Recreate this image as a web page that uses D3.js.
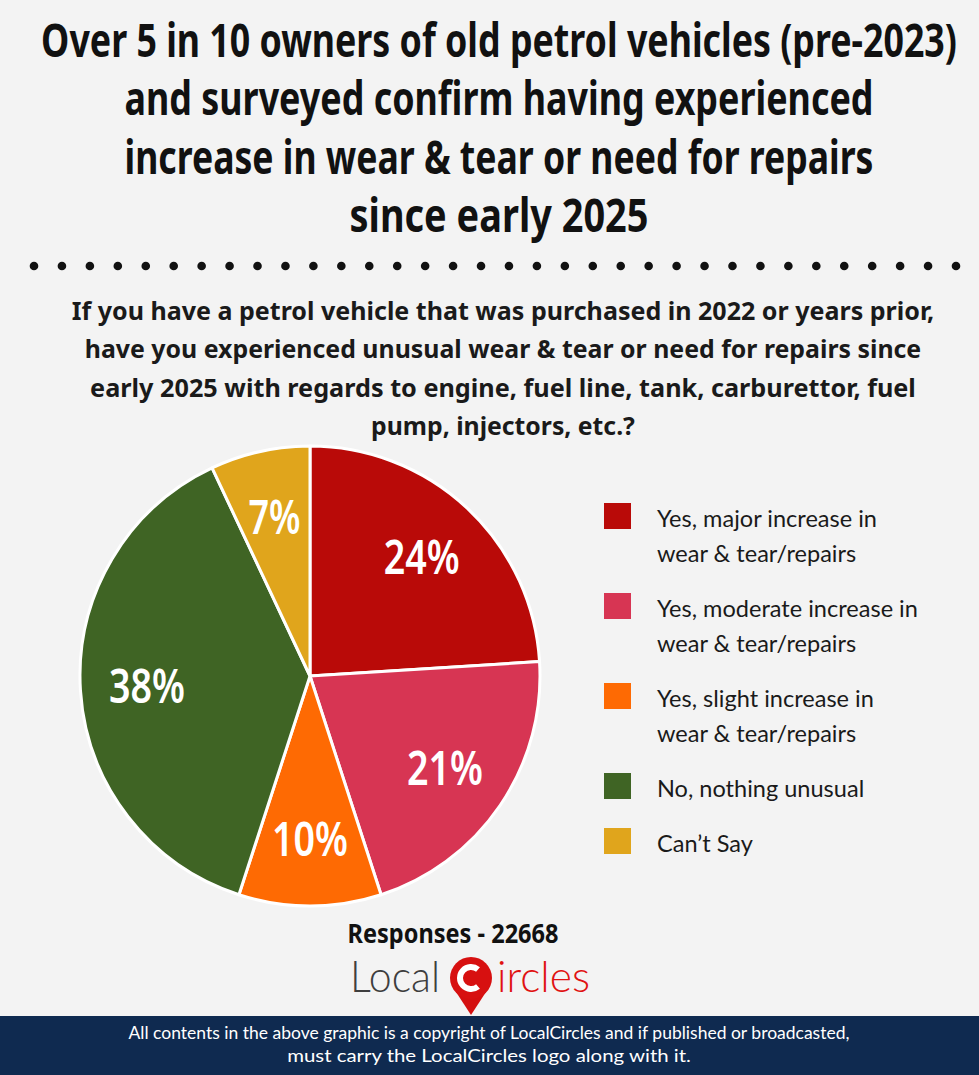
<!DOCTYPE html>
<html>
<head>
<meta charset="utf-8">
<script src="https://cdn.jsdelivr.net/npm/d3@7/dist/d3.min.js"></script>
<style>
  html, body { margin: 0; padding: 0; background: #f3f3f3; }
  svg { display: block; }
</style>
</head>
<body>
<svg id="chart" width="979" height="1075"></svg>
<script>
// ---------------- DATA ----------------
const titleLines = [
  "Over 5 in 10 owners of old petrol vehicles (pre-2023)",
  "and surveyed confirm having experienced",
  "increase in wear & tear or need for repairs",
  "since early 2025"
];
const questionLines = [
  "If you have a petrol vehicle that was purchased in 2022 or years prior,",
  "have you experienced unusual wear & tear or need for repairs since",
  "early 2025 with regards to engine, fuel line, tank, carburettor, fuel",
  "pump, injectors, etc.?"
];
const categories = [
  ["Yes, major increase in", "wear & tear/repairs"],
  ["Yes, moderate increase in", "wear & tear/repairs"],
  ["Yes, slight increase in", "wear & tear/repairs"],
  ["No, nothing unusual"],
  ["Can\u2019t Say"]
];
const values = [24, 21, 10, 38, 7];
const responsesText = "Responses - 22668";
const footerLines = [
  "All contents in the above graphic is a copyright of LocalCircles and if published or broadcasted,",
  "must carry the LocalCircles logo along with it."
];

// ---------------- STYLE / LAYOUT ----------------
const palette = ["#b90a08", "#d73553", "#fe6a03", "#3f6424", "#e0a51c"];
const W = 979, H = 1075;
const svg = d3.select("#chart");
const noto = "'Noto Sans', 'Open Sans', sans-serif";

svg.append("rect").attr("width", W).attr("height", H).attr("fill", "#f3f3f3");

// place a text at (x,y) and squeeze horizontally to a target width
function squeeze(node, x, y, width, anchor) {
  const w = node.getComputedTextLength();
  const k = width / w;
  node.setAttribute("x", 0);
  node.setAttribute("y", 0);
  node.setAttribute("text-anchor", anchor || "middle");
  node.setAttribute("transform", `translate(${x},${y}) scale(${k},1)`);
}

// Title
const titleWidths = [916, 749, 749, 299];
const titleBase = [57, 115, 174, 232];
svg.append("g").selectAll("text").data(titleLines).join("text")
  .style("font-family", noto).style("font-stretch", "condensed")
  .style("font-weight", "bold").style("font-size", "46px").attr("fill", "#111")
  .text(d => d)
  .each(function (d, i) { squeeze(this, 499, titleBase[i], titleWidths[i]); });

// Dotted separator
const nDots = 34;
const dotX = d3.scaleLinear().domain([0, nDots - 1]).range([34, 956]);
svg.append("g").selectAll("circle").data(d3.range(nDots)).join("circle")
  .attr("cx", d => dotX(d)).attr("cy", 266).attr("r", 4.3).attr("fill", "#111");

// Question
const qWidths = [863, 837, 826, 264];
const qBase = [320, 358, 397, 435];
svg.append("g").selectAll("text").data(questionLines).join("text")
  .style("font-family", noto).style("font-stretch", "semi-condensed")
  .style("font-weight", "bold").style("font-size", "25px").attr("fill", "#1a1a1a")
  .text(d => d)
  .each(function (d, i) { squeeze(this, 503, qBase[i], qWidths[i]); });

// Pie
const cx = 310, cy = 676, R = 230;
const pie = d3.pie().sort(null).value(d => d);
const arcs = pie(values);
const arc = d3.arc().innerRadius(0).outerRadius(R);
const labelArc = d3.arc().innerRadius(R * 0.71).outerRadius(R * 0.71);
const gPie = svg.append("g").attr("transform", `translate(${cx},${cy})`);
gPie.selectAll("path").data(arcs).join("path")
  .attr("d", arc)
  .attr("fill", (d, i) => palette[i])
  .attr("stroke", "#ffffff").attr("stroke-width", 3).attr("stroke-linejoin", "round");
gPie.selectAll("text").data(arcs).join("text")
  .style("font-family", noto).style("font-stretch", "condensed")
  .style("font-weight", "600").style("font-size", "47px").attr("fill", "#ffffff")
  .text(d => d.data + "%")
  .each(function (d) {
    const [x, y] = labelArc.centroid(d);
    const target = (String(d.data).length === 1 ? 52 : 76);
    squeeze(this, x, y + 17, target);
  });

// Legend
const legend = svg.append("g");
let ly = 503;
categories.forEach((lines, i) => {
  const g = legend.append("g").attr("transform", `translate(604,${ly})`);
  g.append("rect").attr("width", 27).attr("height", 26).attr("fill", palette[i]);
  g.selectAll("text").data(lines).join("text")
    .attr("x", 53).attr("y", (d, j) => 24 + j * 35)
    .style("font-family", "Lato, 'Open Sans', sans-serif")
    .style("font-size", "23.5px").attr("fill", "#1a1a1a")
    .text(d => d);
  ly += lines.length * 35 + 20;
});
(function () {
  const texts = legend.selectAll("text").nodes();
  const ref = texts.find(t => t.textContent === "Yes, moderate increase in");
  const k = 261 / ref.getComputedTextLength();
  texts.forEach(t => {
    const x = +t.getAttribute("x"), y = +t.getAttribute("y");
    t.setAttribute("x", 0); t.setAttribute("y", 0);
    t.setAttribute("transform", `translate(${x},${y}) scale(${k},1)`);
  });
})();

// Responses
svg.append("text")
  .style("font-family", noto).style("font-stretch", "semi-condensed")
  .style("font-weight", "bold").style("font-size", "26px").attr("fill", "#111")
  .text(responsesText)
  .each(function () { squeeze(this, 453, 943, 211); });

// Logo
const logo = svg.append("g");
logo.append("text")
  .style("font-family", "Lato, 'DejaVu Sans', sans-serif")
  .style("font-weight", "300").style("font-size", "43px").attr("fill", "#3e3e3e")
  .text("Local").each(function () { squeeze(this, 350, 992, 90, "start"); });
const pinCx = 471, pinCy = 978, pinR = 21;
logo.append("path")
  .attr("d", `M${pinCx - 15},${pinCy + 14} L${pinCx},${pinCy + 37} L${pinCx + 15},${pinCy + 14} Z`)
  .attr("fill", "#d40f0f");
logo.append("circle").attr("cx", pinCx).attr("cy", pinCy).attr("r", pinR).attr("fill", "#d71010");
logo.append("path")
  .attr("transform", `translate(${pinCx},${pinCy})`)
  .attr("d", d3.arc().innerRadius(8).outerRadius(14).startAngle(Math.PI * 0.78).endAngle(Math.PI * 2.22)())
  .attr("fill", "#ffffff");
logo.append("text")
  .style("font-family", "Lato, 'DejaVu Sans', sans-serif")
  .style("font-weight", "300").style("font-size", "43px").attr("fill", "#e01212")
  .text("ircles").each(function () { squeeze(this, 497, 992, 93, "start"); });

// Footer
svg.append("rect").attr("x", 0).attr("y", 1016).attr("width", W).attr("height", H - 1016).attr("fill", "#0f2a50");
const footerWidths = [721, 404];
svg.append("g").selectAll("text").data(footerLines).join("text")
  .style("font-family", "Lato, 'Open Sans', sans-serif")
  .style("font-size", "17.5px").attr("fill", "#ffffff")
  .text(d => d)
  .each(function (d, i) { squeeze(this, 489, 1039 + i * 23, footerWidths[i]); });
</script>
</body>
</html>
